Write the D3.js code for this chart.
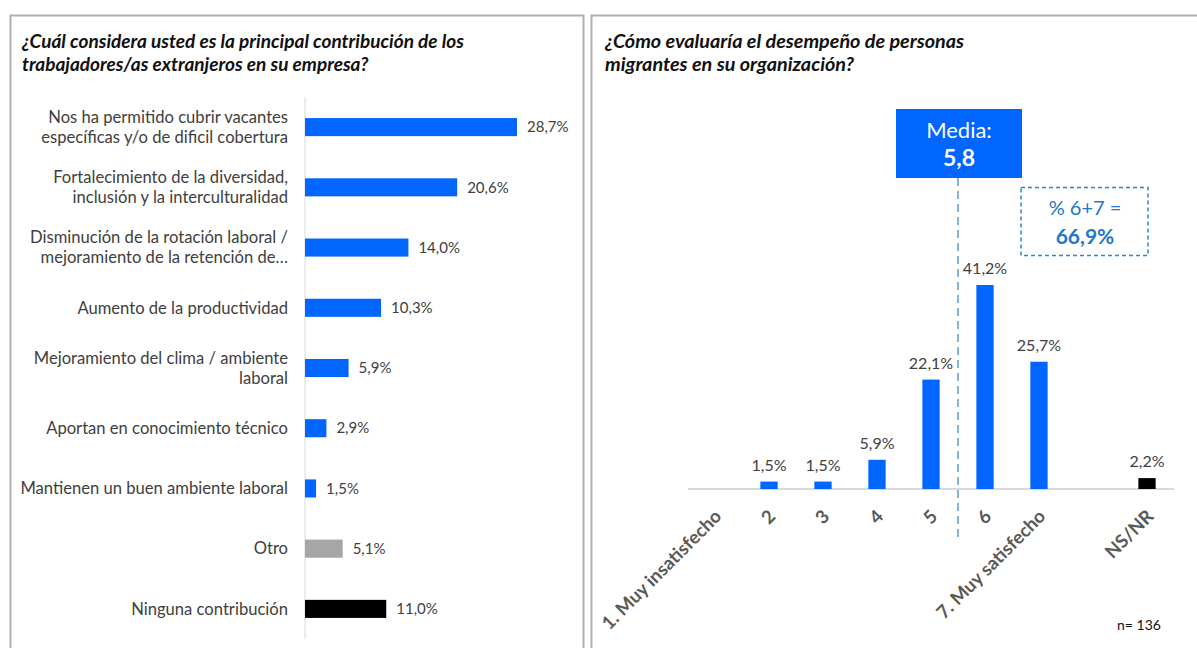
<!DOCTYPE html>
<html>
<head>
<meta charset="utf-8">
<script src="https://cdn.jsdelivr.net/npm/d3@7"></script>
<style>
  body { margin: 0; background: #fff; }
  svg { display: block; font-family: Lato, "Open Sans", sans-serif; }
</style>
</head>
<body>
<div id="chart"></div>
<script>
// Datos del panel izquierdo
const contribCategorias = [
    "Nos ha permitido cubrir vacantes\nespecíficas y/o de dificil cobertura",
    "Fortalecimiento de la diversidad,\ninclusión y la interculturalidad",
    "Disminución de la rotación laboral /\nmejoramiento de la retención de…",
    "Aumento de la productividad",
    "Mejoramiento del clima / ambiente\nlaboral",
    "Aportan en conocimiento técnico",
    "Mantienen un buen ambiente laboral",
    "Otro",
    "Ninguna contribución"
];
const contribValores = [28.7, 20.6, 14.0, 10.3, 5.9, 2.9, 1.5, 5.1, 11.0];
const contribTipo = ["si", "si", "si", "si", "si", "si", "si", "otro", "ninguna"];

// Datos del panel derecho
const evalCategorias = ["1. Muy insatisfecho", "2", "3", "4", "5", "6", "7. Muy satisfecho", "", "NS/NR"];
const evalValores = [null, 1.5, 1.5, 5.9, 22.1, 41.2, 25.7, null, 2.2];
const evalTipo = ["si", "si", "si", "si", "si", "si", "si", "vacio", "nsnr"];
const media = "5,8";
const top2 = "66,9%";
const nMuestra = "n= 136";

const colores = { si: "#0066FF", otro: "#A6A6A6", ninguna: "#000000", nsnr: "#000000" };
const fmt = v => v.toFixed(1).replace(".", ",") + "%";

const W = 1197, H = 648;
const svg = d3.select("#chart").append("svg")
    .attr("width", W)
    .attr("height", H);

// Marcos de los paneles
svg.append("rect").attr("x", 10.5).attr("y", 15.5).attr("width", 573).attr("height", 660)
    .attr("fill", "none").attr("stroke", "#B0B0B0").attr("stroke-width", 2);
svg.append("rect").attr("x", 591.5).attr("y", 15.5).attr("width", 640).attr("height", 660)
    .attr("fill", "none").attr("stroke", "#B0B0B0").attr("stroke-width", 2);

// Títulos
function titulo(x, lineas, size) {
    let t = svg.append("text")
        .attr("x", x).attr("y", 48)
        .style("font-size", size + "px")
        .style("font-weight", "bold")
        .style("font-style", "italic")
        .style("fill", "#111");
    lineas.forEach((l, i) => {
        t.append("tspan").attr("x", x).attr("dy", i === 0 ? 0 : 23).text(l);
    });
}
titulo(22, ["¿Cuál considera usted es la principal contribución de los",
            "trabajadores/as extranjeros en su empresa?"], 19);
titulo(605, ["¿Cómo evaluaría el desempeño de personas",
             "migrantes en su organización?"], 19.8);

// ---------- Panel izquierdo: barras horizontales ----------
let x1 = d3.scaleLinear().domain([0, 28.7]).range([305, 517]);
let y1 = d3.scaleBand().domain(contribCategorias).range([97, 639])
    .paddingInner(0.7).paddingOuter(0.35);

let g1 = svg.append("g");

g1.append("line")
    .attr("x1", x1(0)).attr("x2", x1(0))
    .attr("y1", 97).attr("y2", 639)
    .style("stroke", "#D9D9D9").style("stroke-width", 1);

g1.selectAll(".bar")
    .data(contribCategorias)
    .enter()
    .append("rect")
    .attr("class", "bar")
    .attr("x", x1(0))
    .attr("y", d => y1(d))
    .attr("width", (d, i) => x1(contribValores[i]) - x1(0))
    .attr("height", y1.bandwidth())
    .attr("fill", (d, i) => colores[contribTipo[i]]);

g1.selectAll(".valor")
    .data(contribCategorias)
    .enter()
    .append("text")
    .attr("class", "valor")
    .attr("x", (d, i) => x1(contribValores[i]) + 10)
    .attr("y", d => y1(d) + y1.bandwidth() / 2)
    .attr("dy", "0.35em")
    .style("font-size", "15px")
    .style("fill", "#404040")
    .text((d, i) => fmt(contribValores[i]));

g1.selectAll(".cat")
    .data(contribCategorias)
    .enter()
    .append("text")
    .attr("class", "cat")
    .attr("text-anchor", "end")
    .style("font-size", "16.6px")
    .style("fill", "#404040")
    .each(function(d) {
        let lineas = d.split("\n");
        let yc = y1(d) + y1.bandwidth() / 2;
        let t = d3.select(this);
        lineas.forEach((l, i) => {
            t.append("tspan")
                .attr("x", 288)
                .attr("y", yc + (i - (lineas.length - 1) / 2) * 20)
                .attr("dy", "0.35em")
                .text(l);
        });
    });

// ---------- Panel derecho: columnas ----------
let x2 = d3.scaleBand().domain(evalCategorias.map((d, i) => i)).range([688, 1174])
    .paddingInner(0.68).paddingOuter(0.34);
let y2 = d3.scaleLinear().domain([0, 41.2]).range([489, 285]);

let g2 = svg.append("g");

g2.append("line")
    .attr("x1", 688).attr("x2", 1174)
    .attr("y1", y2(0)).attr("y2", y2(0))
    .style("stroke", "#D9D9D9").style("stroke-width", 2);

let datos2 = evalValores.map((v, i) => ({ i: i, v: v, tipo: evalTipo[i], cat: evalCategorias[i] }))
    .filter(d => d.v !== null);

g2.selectAll(".col")
    .data(datos2)
    .enter()
    .append("rect")
    .attr("class", "col")
    .attr("x", d => x2(d.i))
    .attr("y", d => y2(d.v))
    .attr("width", x2.bandwidth())
    .attr("height", d => y2(0) - y2(d.v))
    .attr("fill", d => colores[d.tipo]);

g2.selectAll(".valor2")
    .data(datos2)
    .enter()
    .append("text")
    .attr("class", "valor2")
    .attr("x", d => x2(d.i) + x2.bandwidth() / 2)
    .attr("y", d => y2(d.v) - 11)
    .attr("text-anchor", "middle")
    .style("font-size", "16px")
    .style("fill", "#404040")
    .text(d => fmt(d.v));

// Etiquetas del eje x, rotadas
g2.selectAll(".cat2")
    .data(evalCategorias.map((c, i) => ({ c: c, i: i })).filter(d => d.c !== ""))
    .enter()
    .append("text")
    .attr("class", "cat2")
    .attr("text-anchor", "end")
    .attr("transform", d => `translate(${x2(d.i) + x2.bandwidth() / 2 + 3},${y2(0) + 24}) rotate(-45)`)
    .attr("dy", "0.35em")
    .style("font-size", "18.5px")
    .style("font-weight", "bold")
    .style("fill", "#595959")
    .text(d => d.c);

// Línea de la media (entre 5 y 6)
let xMedia = (x2(4) + x2(5) + x2.bandwidth()) / 2;
g2.append("line")
    .attr("x1", xMedia).attr("x2", xMedia)
    .attr("y1", 178).attr("y2", 539)
    .style("stroke", "#5B9BD5")
    .style("stroke-width", 1.5)
    .style("stroke-dasharray", "8,5");

g2.append("rect")
    .attr("x", 896).attr("y", 109).attr("width", 126).attr("height", 69)
    .attr("fill", "#0066FF");
g2.append("text")
    .attr("x", 959).attr("y", 138)
    .attr("text-anchor", "middle")
    .style("font-size", "22px").style("fill", "#fff")
    .text("Media:");
g2.append("text")
    .attr("x", 959).attr("y", 166)
    .attr("text-anchor", "middle")
    .style("font-size", "23px").style("font-weight", "bold").style("fill", "#fff")
    .text(media);

// Recuadro % 6+7
g2.append("rect")
    .attr("x", 1021).attr("y", 187.5).attr("width", 127).attr("height", 68)
    .attr("fill", "none")
    .attr("stroke", "#2E86D1").attr("stroke-width", 1.5)
    .attr("stroke-dasharray", "4,3");
g2.append("text")
    .attr("x", 1085).attr("y", 215)
    .attr("text-anchor", "middle")
    .style("font-size", "20px").style("fill", "#1F78C8")
    .text("% 6+7 =");
g2.append("text")
    .attr("x", 1085).attr("y", 244)
    .attr("text-anchor", "middle")
    .style("font-size", "21px").style("font-weight", "bold").style("fill", "#1F78C8")
    .text(top2);

svg.append("text")
    .attr("x", 1117).attr("y", 630)
    .style("font-size", "14px").style("fill", "#111")
    .text(nMuestra);
</script>
</body>
</html>
